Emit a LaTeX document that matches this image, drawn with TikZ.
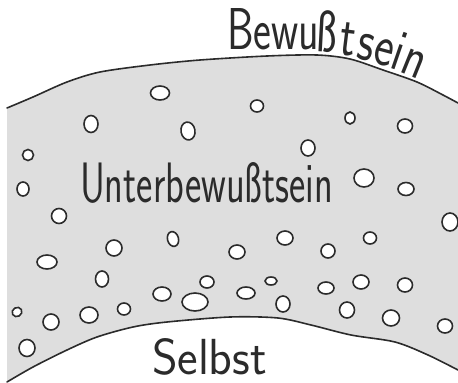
\documentclass[tikz,border=0pt]{standalone}
\usepackage{graphicx}
\definecolor{ink}{HTML}{2B2B2B}
\definecolor{bg}{HTML}{DEDEDE}
\newlength{\bwW}
\newlength{\bwH}
\newcommand{\handtxt}[1]{\scalebox{\bxs}[\bys]{\fontsize{60}{60}\selectfont\sffamily #1}}
\newcommand{\handlow}[1]{\scalebox{\bxl}[\bys]{\fontsize{60}{60}\selectfont\sffamily #1}}
\begin{document}
\settowidth{\bwW}{\fontsize{60}{60}\selectfont\sffamily Bewu}%
\settoheight{\bwH}{\fontsize{60}{60}\selectfont\sffamily B}%
\pgfmathsetmacro{\bxs}{92pt/\bwW}%
\pgfmathsetmacro{\bxl}{1.08*\bxs}%
\pgfmathsetmacro{\bys}{41pt/\bwH}%
\begin{tikzpicture}[x=1pt,y=-1pt,
  edge/.style={draw=ink, line width=1.6pt, line cap=round, line join=round},
  blob/.style={draw=ink, fill=white, line width=1.6pt},
  lbl/.style={inner sep=0pt, outer sep=0pt, text=ink, font=\sffamily}]
\useasboundingbox (0,0) rectangle (458,383);
% gray region
\fill[bg] plot[smooth] coordinates {(7,108) (33,97) (67,82) (100,72) (150,65) (200,60) (267,56) (317,55) (350,59) (383,70) (417,82) (443,95) (458,103)}
  -- (458,370)
  -- plot[smooth] coordinates {(458,370) (428,355) (395,342) (351,335) (311,325) (278,318) (230,317) (167,322) (133,327) (97,337) (67,350) (33,367) (7,382)}
  -- cycle;
\draw[edge] plot[smooth] coordinates {(7,108) (33,97) (67,82) (100,72) (150,65) (200,60) (267,56) (317,55) (350,59) (383,70) (417,82) (443,95) (458,103)};
\draw[edge] plot[smooth] coordinates {(458,370) (428,355) (395,342) (351,335) (311,325) (278,318) (230,317) (167,322) (133,327) (97,337) (67,350) (33,367) (7,382)};
% blobs
\foreach \bx/\by/\ra/\rb/\rr in {
 160/93/9.5/7/0, 91/124/7/8.5/0, 188/131/7/9/10, 28/155/5.5/5.5/0, 23/189/6/7/0,
 59/216/7.5/7.5/0, 257/106/6.5/6/0, 350/118/5/6/0, 405/126/7.5/7/0, 308/148/7/8/0,
 364/178/10/9/0, 406/189/8/6.5/0, 450/222/8/9/0, 173/239/5.5/7.5/15, 114/248/8/8/0,
 47/262/10/7/0, 102/279/6.5/8/0, 207/282/7/6/0, 162/294/9/7/0, 195/302/13/9/0,
 17/312/5/4.5/30, 51/322/8/8/0, 89/315/9/8/0, 124/309/6.5/6/0, 27/348/8/8.5/0,
 237/252/8/7/0, 285/238/8/7/0, 328/251/7/7/0, 370/238/6.5/6/0, 271/281/6/4/0,
 246/293/9/6/0, 283/304/7/8/0, 326/288/8/6/0, 361/282/8/7/0, 405/285/7.5/7/0,
 347/310/7.5/8/0, 391/318/8.5/8/0, 445/326/7.5/7/0}
 \draw[blob, rotate around={\rr:(\bx,\by)}] (\bx,\by) ellipse [x radius=\ra pt, y radius=\rb pt];
% labels
\node[lbl, anchor=base west] (unter) at (80,202) {\resizebox{253pt}{40pt}{\fontsize{60}{60}\selectfont Unterbewußtsein}};
\node[lbl, anchor=base west] (selbst) at (152,374) {\resizebox{115pt}{36pt}{\fontsize{60}{60}\selectfont Selbst}};
\node[lbl, anchor=base west] (bw1) at (227,49) {\handtxt{Bewu}};
\node[lbl, anchor=base west, rotate=-3] (bw2) at (315,51) {\handlow{ß}};
\node[lbl, anchor=base west, rotate=-7] (bw3) at (338,54) {\handlow{t}};
\node[lbl, anchor=base west, rotate=-11] (bw4) at (355,58) {\handlow{s}};
\node[lbl, anchor=base west, rotate=-15] (bw5) at (371,62) {\handlow{e}};
\node[lbl, anchor=base west, rotate=-19] (bw6) at (388,67) {\handlow{i}};
\node[lbl, anchor=base west, rotate=-22] (bw7) at (398,71) {\handlow{n}};
\end{tikzpicture}
\end{document}
